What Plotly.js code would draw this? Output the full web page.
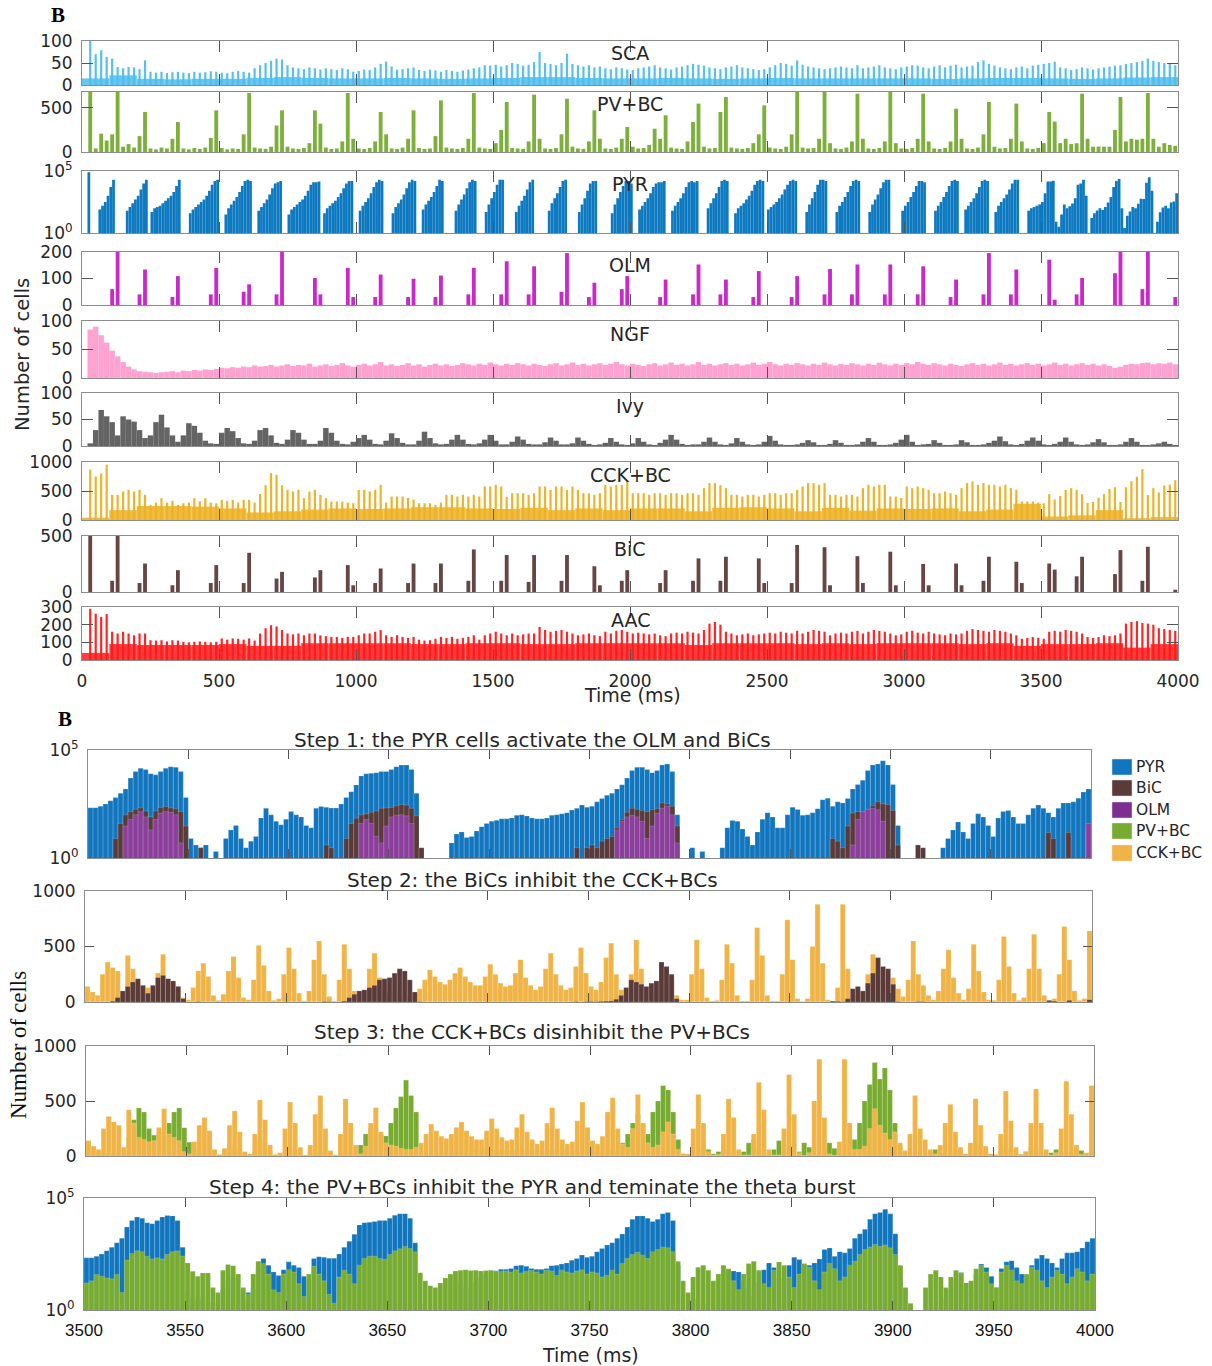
<!DOCTYPE html>
<html><head><meta charset="utf-8">
<script src="https://cdn.plot.ly/plotly-3.0.1.min.js"></script>
<style>body{margin:0;background:#fff}#chart{width:1212px;height:1366px}</style>
</head><body><div id="chart"></div>
<script>
// ---------------- TOP PANEL DATA (0-4000 ms) ----------------
const topStartMs = 0;
const topBinMs = 20;      // bin of most top series
const pyrBinMs = 10;      // bin of the PYR series
const baseBinMs = 100;    // bin of the slow baseline of the gamma-comb series
const topTickVals = [0,500,1000,1500,2000,2500,3000,3500,4000];
const topNames = ['SCA','PV+BC','PYR','OLM','NGF','Ivy','CCK+BC','BiC','AAC'];

const SCA_T = [0,100,70,79,64,60,41,38,41,40, 36,56,30,28,30,27,29,30,28,27, 30,28,29,31,30,28,27,30,32,30, 28,38,45,50,55,60,58,45,40,38,
  36,40,38,35,38,36,34,38,36,30, 32,35,34,40,48,53,42,35,36,38, 40,34,32,35,33,30,34,32,30,33, 35,38,40,45,44,46,42,45,50,48,
  44,46,52,75,50,48,45,50,71,48, 45,42,45,40,42,38,36,40,38,35, 34,38,40,42,45,40,38,35,40,42, 45,48,46,44,40,38,36,40,42,45,
  40,38,36,34,36,40,45,50,48,44, 56,46,42,40,38,36,38,40,42,40, 38,45,38,40,42,45,40,38,36,40, 42,45,44,40,38,42,45,40,44,46,
  40,42,44,52,56,48,44,40,38,36, 40,42,38,44,46,48,50,53,40,38, 34,36,40,38,35,38,40,42,44,45, 48,50,52,55,60,55,52,50,48,45];
const SCA_BASE = [15,22,14,13,14,14,16,18,16,15, 15,16,15,14,15,16,18,18,16,15, 15,16,15,14,15,16,15,15,15,15, 15,14,15,16,16,15,14,15,17,18];

const PV_T = [0,680,40,208,130,200,680,60,90,50, 180,453,40,30,50,40,150,340,40,30, 45,35,50,160,472,45,30,40,35,200, 669,50,40,35,60,300,472,60,40,35,
  45,100,472,321,50,35,40,120,669,150, 40,35,45,120,453,200,40,35,50,150, 472,45,35,40,180,585,50,40,35,45, 150,669,50,40,35,100,250,567,45,40,
  35,120,650,150,40,35,45,200,604,60, 40,35,120,472,150,40,35,50,150,283, 60,40,45,80,264,150,416,50,40,35, 120,340,548,60,40,45,453,623,50,40,
  35,45,100,200,529,50,40,35,60,200, 680,50,40,45,150,680,100,40,35,50, 120,661,150,40,35,45,120,680,100,40, 35,45,150,661,120,40,35,45,120,491,
  150,40,35,50,200,567,60,40,45,150, 548,120,40,35,45,100,453,345,100,150, 90,100,661,150,60,62,60,60,250,623, 120,150,140,150,669,150,60,100,80,70];

// PYR: log10 of the number of cells per 10 ms bin (null = no cell)
const PYR_T_LOG10 = [
  null,null,4.9,null,null,null,1.9,2.2,2.5,3.0, 3.7,4.3,null,null,null,null,1.8,2.1,2.4,2.7,
  3.0,3.5,4.0,4.3,null,1.7,2.0,2.1,2.2,2.4, 2.6,2.8,3.0,3.3,3.8,4.3,null,null,null,1.6,
  1.9,2.1,2.3,2.5,2.7,3.0,3.4,3.9,4.2,4.3, null,null,1.5,2.0,2.3,2.6,2.9,3.3,3.8,4.2,
  4.3,4.2,null,null,1.8,2.1,2.4,2.7,3.1,3.6, 4.0,4.1,4.2,null,null,1.5,1.9,2.1,2.3,2.5,
  2.7,3.0,3.4,3.9,4.1,4.1,4.15,null,1.6,2.0, 2.2,2.4,2.6,2.9,3.2,3.6,4.0,4.2,4.2,null,
  null,1.8,2.2,2.5,2.8,3.2,3.7,4.1,4.3,4.2, null,null,null,1.6,2.1,2.4,2.7,3.1,3.6,4.1,
  4.3,4.2,null,null,1.9,2.3,2.6,2.9,3.3,3.8, 4.3,4.2,null,null,null,null,1.8,2.3,2.7,3.1,
  3.6,4.1,4.3,4.2,null,null,null,1.7,2.3,2.8, 3.3,3.9,4.3,4.3,null,null,null,null,1.7,2.2,
  2.6,3.0,3.5,4.1,4.3,null,null,null,null,null, 1.8,2.4,2.8,3.2,3.7,4.2,4.3,null,null,null,
  null,1.7,2.3,2.8,3.4,4.0,4.2,4.2,null,null, null,null,null,1.6,2.3,2.8,3.3,3.8,4.2,4.2,
  4.0,null,null,1.9,2.2,2.5,2.8,3.2,3.7,4.0, 4.1,4.1,4.2,null,null,1.8,2.2,2.5,2.8,3.2,
  3.7,4.1,4.2,4.1,4.2,null,null,null,2.0,2.4, 2.8,3.2,3.7,4.2,4.3,4.2,null,null,1.6,2.0,
  2.2,2.4,2.7,3.0,3.4,3.9,4.2,4.3,4.2,null, 1.9,2.1,2.3,2.5,2.8,3.1,3.5,3.9,4.2,4.3,
  4.2,null,null,null,1.7,2.3,2.8,3.3,3.9,4.3, 4.3,4.2,null,null,null,1.7,2.2,2.5,2.9,3.3,
  3.8,4.2,4.3,4.2,null,null,null,1.7,2.3,2.7, 3.1,3.6,4.1,4.3,4.3,null,null,null,null,1.8,
  2.2,2.5,2.9,3.3,3.8,4.2,4.2,4.1,null,null, null,1.8,2.2,2.5,2.9,3.3,3.8,4.2,4.3,4.2,
  null,null,1.9,2.2,2.5,2.8,3.2,3.7,4.2,4.3, 4.2,null,null,1.7,2.2,2.5,2.8,3.1,3.5,4.0,
  4.3,4.3,null,null,null,1.8,2.0,2.1,2.2,2.3, 2.5,3.2,4.15,4.15,4.22,0.9,0.5,1.5,2.3,2.0,
  2.15,2.38,2.8,3.9,4.0,4.3,3.0,null,1.2,1.6, 1.82,2.0,1.85,2.1,2.45,2.9,3.7,4.2,4.35,2.0,
  0.4,1.4,1.74,2.1,2.0,2.35,2.77,2.75,4.05,4.5, 3.4,null,0.9,1.67,2.05,2.2,2.0,2.45,2.55,3.2];

const OLM_T = [0,0,0,0,0,60,200,0,0,0, 40,134,0,0,0,0,30,109,0,0, 0,0,0,40,140,0,0,0,0,50, 78,0,0,0,0,40,200,0,0,0,
  0,0,102,40,0,0,0,0,140,30, 0,0,0,30,115,0,0,0,0,30, 99,0,0,0,30,111,0,0,0,0, 40,140,0,0,0,0,40,165,0,0,
  0,40,146,0,0,0,0,50,196,0, 0,0,30,84,0,0,0,0,60,109, 0,0,0,0,0,30,96,0,0,0, 0,40,153,0,0,0,40,96,0,0,
  0,0,30,128,0,0,0,0,0,30, 109,0,0,0,0,40,136,0,0,0, 40,153,0,0,0,0,40,153,0,0, 0,0,40,146,0,0,0,0,30,96,
  0,0,0,0,40,196,0,0,0,40, 134,0,0,0,0,0,171,20,0,0, 0,40,102,0,0,0,0,0,120,200, 0,0,0,60,200,0,0,0,0,30];

const NGF_T = [0,85,90,75,62,48,38,28,20,15, 12,11,10,9,10,11,12,10,13,12, 14,13,15,14,16,18,17,19,18,20, 19,22,20,21,23,20,22,24,21,23,
  22,25,20,22,24,21,23,26,22,20, 23,25,22,24,28,22,24,21,23,26, 22,24,20,23,25,22,24,21,23,26, 24,22,25,23,27,24,22,25,23,26,
  24,22,25,23,21,24,26,22,24,27, 23,25,22,24,26,23,25,28,24,22, 25,23,21,24,26,22,24,27,23,25, 22,24,28,23,25,22,24,26,23,25,
  22,24,27,23,25,28,24,22,25,23, 26,24,22,25,23,27,24,22,25,23, 26,24,22,25,23,27,24,22,25,23, 26,24,28,25,23,26,24,22,25,23,
  21,24,26,23,25,22,24,27,23,25, 22,24,26,23,25,22,24,27,23,25, 22,24,26,23,25,22,24,21,18,20, 23,25,24,26,27,24,26,25,27,24];

const IVY_T = [0,5,30,68,56,45,20,56,50,46, 30,15,20,45,59,35,20,8,20,43, 38,25,10,5,4,25,34,28,15,5, 4,10,30,34,20,6,4,12,30,25,
  12,4,4,10,34,25,10,4,3,8, 15,21,12,4,3,10,24,15,6,3, 3,10,27,15,5,3,4,12,21,12, 4,3,5,12,21,10,3,3,8,18,
  12,4,3,3,7,16,10,3,3,5, 16,10,4,2,3,6,15,8,3,2, 5,15,8,3,2,6,12,21,12,4, 2,3,3,8,16,8,3,2,5,15,
  8,3,2,3,8,19,10,3,2,2, 3,6,11,7,2,2,4,11,6,2, 2,3,8,15,8,2,2,3,6,12, 21,8,2,3,4,11,6,2,2,3,
  11,7,2,2,3,6,10,18,9,3, 2,4,10,16,10,3,2,4,8,16, 8,3,2,3,7,13,7,2,2,3, 8,15,8,2,2,3,5,8,4,2];

const CCK_T = [0,867,751,800,954,434,434,491,520,491, 520,434,260,300,376,300,330,260,289,300, 376,320,376,300,289,347,330,347,300,347, 347,300,450,600,809,780,600,520,491,520,
  376,491,520,434,376,318,318,318,300,290, 520,520,491,520,607,300,405,405,405,380, 350,289,289,289,260,300,434,434,405,434, 405,434,405,578,578,607,578,400,462,462,
  462,434,462,578,578,520,578,578,520,578, 520,462,462,434,462,607,578,607,607,665, 462,462,462,434,462,462,434,462,462,434, 462,462,434,550,636,636,600,550,434,434,
  405,434,434,405,434,462,462,434,462,462, 520,578,636,636,607,636,434,434,405,434, 434,405,550,607,578,607,607,405,405,380, 578,549,578,549,520,462,462,491,462,434,
  550,636,665,607,636,607,607,578,607,549, 520,318,318,318,300,289,445,354,414,520, 550,520,445,294,310,384,445,535,565,310, 565,670,745,880,430,550,475,595,610,685];
const CCK_BASE = [40,170,240,240,230,200,130,150,180,200, 190,200,220,220,200,190,210,170,200,170, 200,200,150,210,220,200,150,210,160,200, 190,200,150,180,280,60,80,170,30,50];

const BIC_T = [0,500,0,0,0,100,500,0,0,0, 80,254,0,0,0,0,60,195,0,0, 0,0,0,80,240,0,0,0,0,80, 350,0,0,0,0,120,180,0,0,0,
  0,0,130,195,0,0,0,0,240,60, 0,0,0,80,210,0,0,0,0,80, 254,0,0,0,80,254,0,0,0,0, 100,380,0,0,0,0,100,330,0,0,
  0,90,330,0,0,0,0,100,330,0, 0,0,0,230,60,0,0,0,100,195, 0,0,0,0,0,80,195,0,0,0, 0,100,300,0,0,0,100,315,0,0,
  0,0,0,300,80,0,0,0,0,80, 420,0,0,0,0,400,60,0,0,0, 0,320,80,0,0,0,0,360,60,0, 0,0,0,250,60,0,0,0,0,254,
  60,0,0,0,100,315,0,0,0,0, 270,80,0,0,0,0,254,200,0,0, 0,140,315,0,0,0,0,0,160,374, 0,0,0,100,404,0,0,0,0,20];

const AAC_T = [0,290,262,244,260,160,150,160,150,140, 150,150,112,110,112,105,112,110,103,100, 103,105,103,100,103,122,115,122,120,115, 122,110,150,180,197,190,170,150,145,150,
  140,150,150,140,135,131,131,125,131,131, 140,150,150,160,169,140,131,140,131,125, 131,115,110,112,120,131,125,131,120,125, 131,140,115,140,150,160,150,140,150,140,
  145,150,150,187,170,160,165,170,160,150, 140,145,150,140,135,160,150,165,170,160, 150,155,150,145,150,140,135,150,155,150, 160,155,150,170,206,215,200,160,150,140,
  145,150,140,145,150,155,150,160,155,150, 165,150,160,170,165,160,140,150,155,150, 160,165,150,160,170,165,160,150,140,145, 160,165,155,150,160,150,145,140,150,145,
  150,165,175,170,165,160,170,165,160,150, 140,120,125,130,125,120,160,165,160,170, 165,160,150,130,125,130,140,135,140,150, 206,215,220,210,206,200,180,175,170,165];
const AAC_BASE = [40,90,85,85,85,90,80,80,95,95, 95,95,90,90,95,95,90,90,95,95, 95,95,85,95,95,95,90,95,90,95, 95,95,90,95,80,90,90,95,70,90];

// ---------------- BOTTOM PANEL DATA (3500-4000 ms, 2.5 ms bins) ----------------
const botStartMs = 3500;
const botBinMs = 2.5;
const botTickVals = [3500,3550,3600,3650,3700,3750,3800,3850,3900,3950,4000];
const botTickText = ['3500','3550','3600','3650','3700','3750','3800','3850','3900','3950','4000'];
const legendNames = ['PYR','BiC','OLM','PV+BC','CCK+BC'];
const stepTitles = ['Step 1: the PYR cells activate the OLM and BiCs','Step 2: the BiCs inhibit the CCK+BCs',
  'Step 3: the CCK+BCs disinhibit the PV+BCs','Step 4: the PV+BCs inhibit the PYR and teminate the theta burst'];

const PYR_B = [214,214,251,316,447,631,1000,1585,5012,10000, 14125,12589,7943,7079,10000,14125,16596,15849,10000,631,
  8,4,3,4,0,2,0,8,20,32, 8,3,6,10,71,200,100,50,35,63, 141,100,79,32,25,200,240,224,204,204,
  316,631,1175,2399,6310,7943,8318,8913,10000,10000, 12589,16982,19953,19953,12589,1000,2,0,0,0, 0,0,5,13,16,9,10,18,28,40,
  50,56,66,66,71,95,100,89,71,66, 66,71,95,100,112,126,166,200,282,224, 251,398,562,794,1000,1585,2455,5012,11220,15849,
  15849,12589,8913,11220,19953,22387,10000,100,0,0, 3,0,2,0,0,0,3,25,55,50, 22,10,4,16,63,126,79,25,25,100,
  224,178,95,100,126,191,501,589,251,398, 355,562,1585,2512,3981,11220,19953,22387,31623,19953, 2512,32,0,0,0,0,0,0,0,0,
  3,8,20,47,16,8,40,112,79,32, 10,71,141,158,79,40,40,100,200,282, 200,126,79,200,355,355,398,589,1122,1585];

const BIC_B = [0,0,0,0,0,8,40,100,140,180, 210,150,80,150,220,240,210,190,140,30, 0,0,3,0,0,0,0,0,0,0, 0,0,0,0,0,0,0,0,0,0,
  0,0,0,0,0,0,0,4,3,0, 0,8,40,70,100,110,130,150,200,210, 220,260,300,280,200,90,3,0,0,0, 0,0,0,0,0,0,0,0,0,0,
  0,0,0,0,0,0,0,0,0,0, 0,0,0,0,0,0,0,3,0,3, 4,3,6,8,10,25,60,130,200,180, 160,140,170,190,360,320,250,30,0,0,
  0,0,0,0,0,0,0,0,0,0, 0,0,0,0,0,0,0,0,0,0, 0,0,0,0,0,0,0,0,8,6, 3,30,120,140,100,170,260,400,320,300,
  160,4,0,0,0,4,3,0,0,0, 0,0,0,0,0,0,0,0,0,0, 0,0,0,0,0,0,0,0,0,0, 0,15,8,0,0,15,0,0,0,20];

const OLM_B = [0,0,0,0,0,0,0,30,60,100, 140,80,20,60,120,140,130,100,5,0, 0,0,0,0,0,0,0,0,0,0, 0,0,0,0,0,0,0,0,0,0,
  0,0,0,0,0,0,0,0,0,0, 0,0,0,0,40,60,40,10,5,30, 80,95,100,90,40,0,0,0,0,0, 0,0,0,0,0,0,0,0,0,0,
  0,0,0,0,0,0,0,0,0,0, 0,0,0,0,0,0,0,0,0,0, 0,0,0,0,0,20,50,80,95,80, 50,8,30,120,200,250,100,5,0,0,
  0,0,0,0,0,0,0,0,0,0, 0,0,0,0,0,0,0,0,0,0, 0,0,0,0,0,0,0,0,0,0, 0,0,4,60,140,180,200,170,50,0,
  0,0,0,0,0,0,0,0,0,0, 0,0,0,0,0,0,0,0,0,0, 0,0,0,0,0,0,0,0,0,0, 0,0,0,0,0,0,0,0,0,40];

const PV_B = [16,20,38,32,27,25,38,6,170,330, 437,400,250,190,214,190,300,400,437,257, 126,54,32,45,45,10,6,60,107,95, 40,10,5,40,151,120,40,8,6,40,
  63,50,15,4,40,89,40,20,5,2, 30,60,40,15,100,200,251,251,200,182, 300,437,540,690,550,400,46,20,12,10, 16,27,40,55,60,62,58,60,55,58,
  60,55,52,55,50,62,45,52,58,50, 40,60,55,35,60,50,45,55,62,40, 50,45,30,35,60,40,120,200,300,380, 280,200,400,500,640,600,400,150,20,6,
  30,80,100,60,20,40,100,70,20,8, 40,120,150,60,15,10,60,140,100,30, 10,40,120,80,20,8,50,120,70,20, 30,100,150,300,500,650,850,700,800,600,
  300,100,10,2,0,0,10,40,60,30, 10,30,60,45,15,20,70,100,50,15, 10,50,100,60,20,15,40,80,60,20, 10,30,60,40,15,30,70,50,20,40];

const CCK_B = [140,90,60,250,360,310,280,80,420,300, 170,150,130,140,260,430,200,170,140,40, 20,130,280,350,230,60,15,70,280,410, 220,40,20,200,510,330,100,15,30,250,
  490,300,80,10,100,380,550,250,50,10, 200,520,300,100,20,90,300,440,220,120, 100,90,70,60,60,80,120,200,290,230, 180,160,200,260,310,230,180,150,150,230,
  340,250,170,140,150,260,380,220,150,110, 140,300,440,250,150,110,130,320,490,260, 140,110,180,400,530,250,110,80,250,560, 300,120,80,100,220,310,200,60,20,20,
  250,560,300,40,10,15,200,520,350,60, 10,10,200,670,420,60,10,10,250,740, 380,30,5,30,500,880,350,20,5,130, 880,300,60,60,90,250,430,280,210,150,
  220,120,50,200,550,250,150,60,20,100, 300,470,220,80,20,120,520,280,90,20, 15,200,590,320,80,15,40,300,610,300, 60,10,30,250,680,380,100,15,30,640];

// ---------------- LAYOUT HELPERS ----------------
const W = 1212, H = 1366;
const dx = (a, b) => [a / W, b / W];
const dy = (t, b) => [1 - b / H, 1 - t / H];
const PX = a => a / W, PY = b => 1 - b / H;
function centers(n, t0, bin) { const a = []; for (let i = 0; i < n; i++) a.push(t0 + bin * (i + 0.5)); return a; }

const FONT = 'DejaVu Sans, Verdana, sans-serif';
const TXT = '#262626';
const axBase = {showline: true, linecolor: '#8c8c8c', linewidth: 1, mirror: 'ticks', ticks: 'inside',
  tickcolor: '#555', tickwidth: 1, showgrid: false, zeroline: false, fixedrange: true,
  tickfont: {family: FONT, size: 17, color: TXT}};

const traces = [];
const layout = {width: W, height: H, margin: {l: 0, r: 0, t: 0, b: 0}, paper_bgcolor: '#fff', plot_bgcolor: 'rgba(0,0,0,0)',
  showlegend: false, barmode: 'overlay', hovermode: false, annotations: [], shapes: []};

// ---------------- TOP PANEL ----------------
const PYR_T = PYR_T_LOG10.map(v => v === null ? null : Math.pow(10, v));
const topSpec = [
  {y: SCA_T, base: SCA_BASE, color: '#4DBEEE', top: 41, bot: 85, range: [0, 100], tv: [0, 50, 100], w: 8},
  {y: PV_T, color: '#77AC30', top: 92, bot: 152, range: [0, 680], tv: [0, 500], w: 14},
  {y: PYR_T, bin: pyrBinMs, color: '#0072BD', top: 171, bot: 233, log: true, w: 10},
  {y: OLM_T, color: '#C81EC8', top: 252, bot: 305, range: [0, 200], tv: [0, 100, 200], w: 14},
  {y: NGF_T, color: '#FF9ECF', top: 321, bot: 378, range: [0, 100], tv: [0, 50, 100], w: 20},
  {y: IVY_T, color: '#5C5C5C', top: 393, bot: 446, range: [0, 100], tv: [0, 50, 100], w: 20},
  {y: CCK_T, base: CCK_BASE, color: '#EDB120', top: 462, bot: 520, range: [0, 1000], tv: [0, 500, 1000], w: 8},
  {y: BIC_T, color: '#5E3C3C', top: 536, bot: 592, range: [0, 500], tv: [0, 500], w: 14},
  {y: AAC_T, base: AAC_BASE, color: '#FF1A1A', top: 607, bot: 660, range: [0, 300], tv: [0, 100, 200, 300], w: 8},
];
topSpec.forEach((p, i) => {
  const k = i + 1, xs = k === 1 ? '' : String(k);
  if (p.base) traces.push({type: 'bar', x: centers(p.base.length, topStartMs, baseBinMs), y: p.base, xaxis: 'x' + xs, yaxis: 'y' + xs,
    width: baseBinMs, marker: {color: p.color, line: {width: 0}}, opacity: 0.85, hoverinfo: 'skip'});
  const bin = p.bin || topBinMs;
  traces.push({type: 'bar', x: centers(p.y.length, topStartMs, bin), y: p.y, xaxis: 'x' + xs, yaxis: 'y' + xs, width: p.w,
    marker: {color: p.color, line: {width: 0}}, opacity: 0.95, hoverinfo: 'skip'});
  layout['xaxis' + xs] = Object.assign({}, axBase, {domain: dx(82, 1178), range: [0, 4000], anchor: 'y' + xs,
    tickmode: 'array', tickvals: topTickVals, ticktext: topTickVals.map(String), ticklen: 11,
    showticklabels: k === 9, ticklabelstandoff: 6});
  const ya = Object.assign({}, axBase, {domain: dy(p.top, p.bot), anchor: 'x' + xs, ticklen: 11, ticklabelstandoff: 5});
  if (p.log) { Object.assign(ya, {type: 'log', range: [0, 5], tickmode: 'array', tickvals: [1, 100000], ticktext: ['10<sup>0</sup>', '10<sup>5</sup>']}); }
  else { Object.assign(ya, {range: p.range, tickmode: 'array', tickvals: p.tv, ticktext: p.tv.map(String)}); }
  layout['yaxis' + xs] = ya;
  layout.annotations.push({xref: 'paper', yref: 'paper', x: PX(630), y: PY(p.top + 12.5), text: topNames[i], showarrow: false,
    xanchor: 'center', yanchor: 'middle', font: {family: FONT, size: 19, color: TXT}});
});

// ---------------- BOTTOM PANEL ----------------
const botX = centers(PYR_B.length, botStartMs, botBinMs);
const C = {PYR: '#1276BE', BIC: '#5B3A3A', OLM: '#8B3E9B', PV: '#77AC30', CCK: '#F0B446'};
const botSpec = [
  {x0: 88, x1: 1091, top: 750, bot: 858, log: true, series: [[PYR_B, C.PYR], [BIC_B, C.BIC], [OLM_B, C.OLM]]},
  {x0: 85, x1: 1092, top: 891, bot: 1002, series: [[CCK_B, C.CCK], [BIC_B, C.BIC]]},
  {x0: 86, x1: 1094, top: 1046, bot: 1156, series: [[PV_B, C.PV], [CCK_B, C.CCK]]},
  {x0: 84, x1: 1095, top: 1198, bot: 1310, log: true, labels: true, series: [[PYR_B, C.PYR], [PV_B, C.PV]]},
];
const titleY = [740, 880, 1032, 1187];
botSpec.forEach((p, j) => {
  const k = String(10 + j);
  p.series.forEach(s => traces.push({type: 'bar', x: botX, y: s[0], xaxis: 'x' + k, yaxis: 'y' + k, width: botBinMs,
    marker: {color: s[1], line: {width: 0.5, color: 'rgba(255,255,255,0.35)'}}, opacity: 1, hoverinfo: 'skip'}));
  layout['xaxis' + k] = Object.assign({}, axBase, {domain: dx(p.x0, p.x1), range: [3500, 4000], anchor: 'y' + k,
    tickmode: 'array', tickvals: botTickVals, ticktext: botTickText, ticklen: 9, showticklabels: !!p.labels,
    ticklabelstandoff: 5, tickfont: {family: 'Liberation Sans, Arial, sans-serif', size: 17, color: '#111'}});
  const ya = Object.assign({}, axBase, {domain: dy(p.top, p.bot), anchor: 'x' + k, ticklen: 9, ticklabelstandoff: 5});
  if (p.log) Object.assign(ya, {type: 'log', range: [0, 5], tickmode: 'array', tickvals: [1, 100000], ticktext: ['10<sup>0</sup>', '10<sup>5</sup>']});
  else Object.assign(ya, {range: [0, 1000], tickmode: 'array', tickvals: [0, 500, 1000], ticktext: ['0', '500', '1000']});
  layout['yaxis' + k] = ya;
  layout.annotations.push({xref: 'paper', yref: 'paper', x: PX(532), y: PY(titleY[j]), text: stepTitles[j], showarrow: false,
    xanchor: 'center', yanchor: 'middle', font: {family: FONT, size: 20, color: TXT}});
});

// legend (patches + names)
const legColors = [C.PYR, C.BIC, '#7E2F8E', C.PV, C.CCK];
const legY = [767, 788, 810, 831, 853];
legendNames.forEach((n, i) => {
  layout.shapes.push({type: 'rect', xref: 'paper', yref: 'paper', x0: PX(1112), x1: PX(1132), y0: PY(legY[i] + 8), y1: PY(legY[i] - 8),
    fillcolor: legColors[i], line: {width: 0.5, color: '#ddd'}});
  layout.annotations.push({xref: 'paper', yref: 'paper', x: PX(1134), y: PY(legY[i]), text: n, showarrow: false,
    xanchor: 'left', yanchor: 'middle', font: {family: FONT, size: 15.5, color: TXT}});
});

// labels
const ann = layout.annotations;
ann.push({xref: 'paper', yref: 'paper', x: PX(58), y: PY(15), text: '<b>B</b>', showarrow: false, xanchor: 'center', yanchor: 'middle',
  font: {family: 'Liberation Serif, Times New Roman, serif', size: 21, color: '#000'}});
ann.push({xref: 'paper', yref: 'paper', x: PX(65), y: PY(719), text: '<b>B</b>', showarrow: false, xanchor: 'center', yanchor: 'middle',
  font: {family: 'Liberation Serif, Times New Roman, serif', size: 21, color: '#000'}});
ann.push({xref: 'paper', yref: 'paper', x: PX(632), y: PY(695), text: 'Time (ms)', showarrow: false, xanchor: 'center', yanchor: 'middle',
  font: {family: FONT, size: 19, color: TXT}});
ann.push({xref: 'paper', yref: 'paper', x: PX(22), y: PY(355), text: 'Number of cells', textangle: -90, showarrow: false,
  xanchor: 'center', yanchor: 'middle', font: {family: FONT, size: 19.5, color: TXT}});
ann.push({xref: 'paper', yref: 'paper', x: PX(590), y: PY(1355), text: 'Time (ms)', showarrow: false, xanchor: 'center', yanchor: 'middle',
  font: {family: FONT, size: 19, color: TXT}});
ann.push({xref: 'paper', yref: 'paper', x: PX(18), y: PY(1045), text: 'Number of cells', textangle: -90, showarrow: false,
  xanchor: 'center', yanchor: 'middle', font: {family: 'Liberation Serif, Times New Roman, serif', size: 23, color: '#111'}});

Plotly.newPlot('chart', traces, layout, {staticPlot: true, displayModeBar: false});
</script>
</body></html>
